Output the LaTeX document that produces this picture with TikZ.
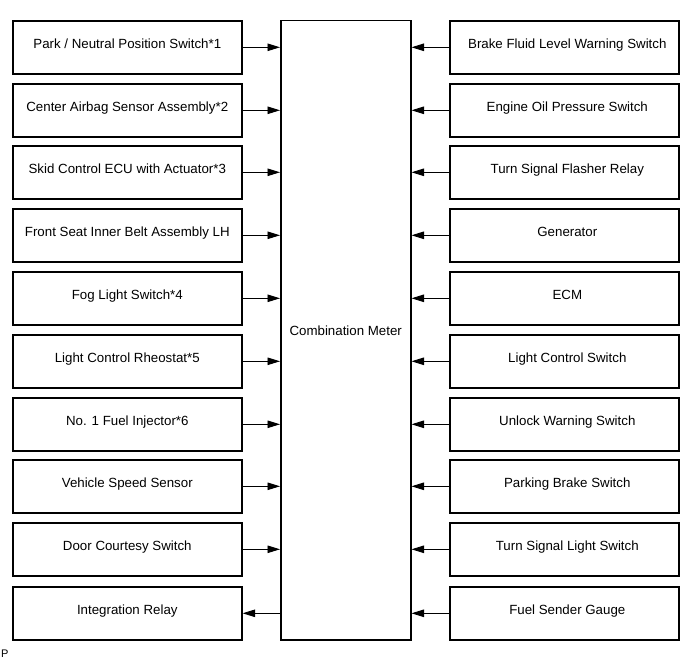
\documentclass[tikz,border=0pt]{standalone}
\usepackage{fontspec}
\setmainfont{Liberation Sans}
\usetikzlibrary{arrows.meta}
\begin{document}
\begin{tikzpicture}[x=1pt,y=-1pt,
  boxL/.style={draw=black, line width=1.6pt, minimum width=229pt, minimum height=53pt, inner sep=0pt, text height=9.5pt, text depth=7.5pt, font=\fontsize{13.3}{15}\selectfont, anchor=north west},
  boxR/.style={boxL},
  meter/.style={draw=black, line width=1.5pt, minimum width=130pt, minimum height=619pt, inner sep=0pt, font=\fontsize{13.3}{15}\selectfont, anchor=north west},
  conn/.style={line width=0.9pt, -{Triangle[length=12.5pt,width=7.5pt]}}]
\useasboundingbox (0,0) rectangle (691,660);
\node[meter] (M) at (280,20) {Combination Meter};
% left column
\node[boxL] (L1) at (12,20) {Park / Neutral Position Switch*1};
\node[boxL] (L2) at (12,83) {Center Airbag Sensor Assembly*2};
\node[boxL] (L3) at (12,145) {Skid Control ECU with Actuator*3};
\node[boxL] (L4) at (12,208) {Front Seat Inner Belt Assembly LH};
\node[boxL] (L5) at (12,271) {Fog Light Switch*4};
\node[boxL] (L6) at (12,334) {Light Control Rheostat*5};
\node[boxL] (L7) at (12,397) {No. 1 Fuel Injector*6};
\node[boxL] (L8) at (12,459) {Vehicle Speed Sensor};
\node[boxL] (L9) at (12,522) {Door Courtesy Switch};
\node[boxL] (L10) at (12,586) {Integration Relay};
% right column
\node[boxR] (R1) at (449,20) {\hspace{6pt}Brake Fluid Level Warning Switch};
\node[boxR] (R2) at (449,83) {\hspace{6pt}Engine Oil Pressure Switch};
\node[boxR] (R3) at (449,145) {\hspace{6pt}Turn Signal Flasher Relay};
\node[boxR] (R4) at (449,208) {\hspace{6pt}Generator};
\node[boxR] (R5) at (449,271) {\hspace{6pt}ECM};
\node[boxR] (R6) at (449,334) {\hspace{6pt}Light Control Switch};
\node[boxR] (R7) at (449,397) {\hspace{6pt}Unlock Warning Switch};
\node[boxR] (R8) at (449,459) {\hspace{6pt}Parking Brake Switch};
\node[boxR] (R9) at (449,522) {\hspace{6pt}Turn Signal Light Switch};
\node[boxR] (R10) at (449,586) {\hspace{6pt}Fuel Sender Gauge};
% connectors
\foreach \i in {1,...,9} {
  \draw[conn] (L\i.east) -- (L\i.east -| M.west);
}
\draw[conn] (L10.east -| M.west) -- (L10.east);
\foreach \i in {1,...,10} {
  \draw[conn] (R\i.west) -- (R\i.west -| M.east);
}
\node[anchor=base west, inner sep=0pt, font=\fontsize{11}{12}\selectfont] (P) at (1,657.5) {P};
\end{tikzpicture}
\end{document}
